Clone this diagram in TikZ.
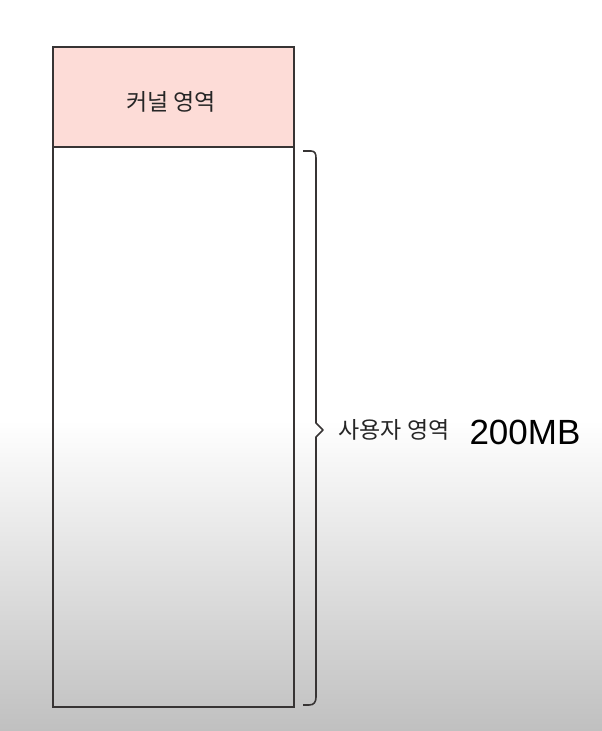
\documentclass[tikz,border=0pt]{standalone}
\usepackage{fontspec}
\setmainfont{Liberation Sans}
\newfontfamily\kr{Noto Sans CJK KR}
\usetikzlibrary{positioning}
\definecolor{kernelpink}{RGB}{253,220,215}
\definecolor{linegray}{RGB}{55,52,52}
\definecolor{bggray}{RGB}{192,192,192}
\tikzset{
  area/.style={draw=linegray,line width=2pt,minimum width=241pt,inner sep=0pt,outer sep=0pt},
  arealabel/.style={font=\kr\fontsize{23}{23}\selectfont,text=black!85},
}
\begin{document}
\begin{tikzpicture}[x=1pt,y=-1pt]
\fill[white] (0,0) rectangle (602,731);
\shade[top color=white,bottom color=bggray] (0,420) rectangle (602,731);
\useasboundingbox (0,0) rectangle (602,731);
\node[area,fill=kernelpink,minimum height=100pt] (kernel) at (173,97) {};
\node[arealabel] (kernellabel) at (171,102) {커널 영역};
\node[area,minimum height=560pt,below=0pt of kernel] (user) {};
\coordinate (btop) at (303,151);
\coordinate (btip) at (323,430);
\coordinate (bbot) at (303,705);
\draw[linegray,line width=1.6pt,line join=round]
  (btop) -- ++(8,0) .. controls ++(4,0) and ++(0,-4) .. ++(5,7)
  -- ([xshift=-7pt,yshift=7pt]btip) -- (btip) -- ([xshift=-7pt,yshift=-7pt]btip)
  -- ([xshift=13pt,yshift=8pt]bbot) .. controls ++(0,5) and ++(5,0) .. ([xshift=6pt]bbot) -- (bbot);
\node[arealabel,anchor=west] (userlabel) at (335,430) {사용자 영역};
\node[anchor=west,font=\fontsize{35}{35}\selectfont] (size) at (466,432) {200MB};
\end{tikzpicture}
\end{document}
